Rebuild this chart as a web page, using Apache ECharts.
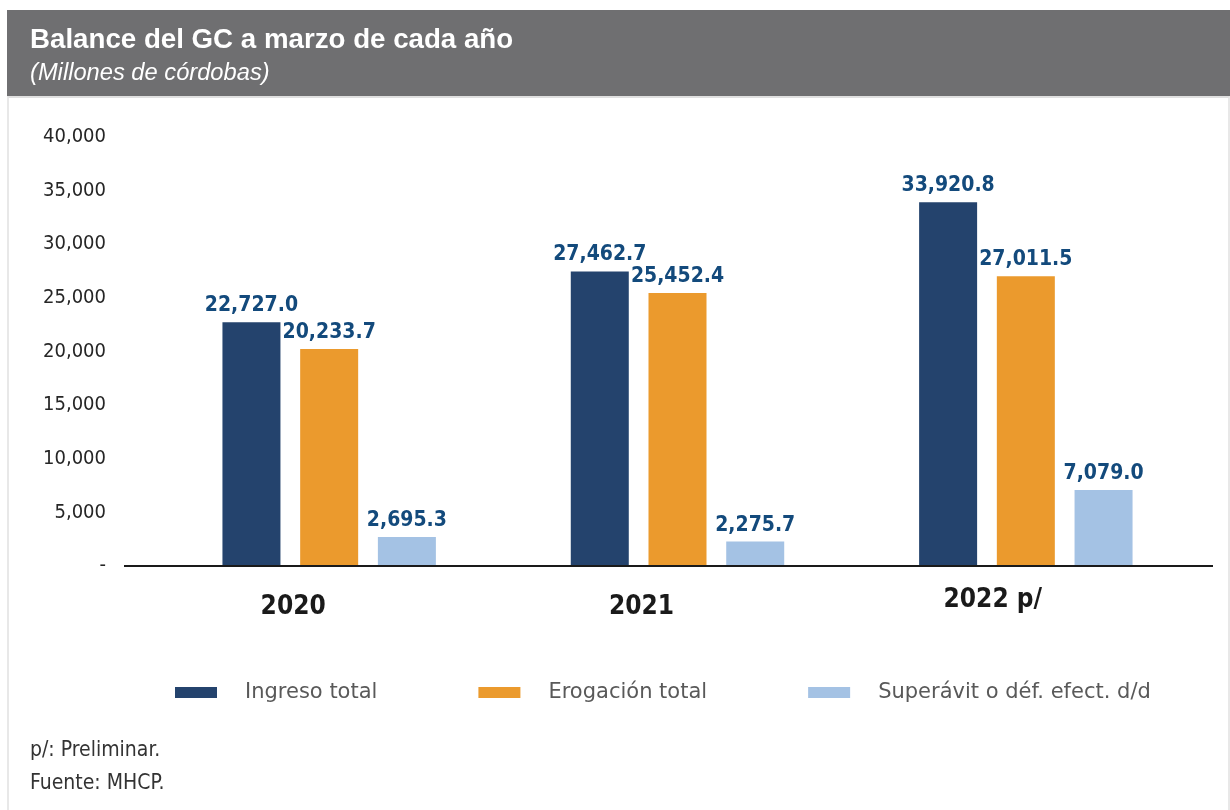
<!DOCTYPE html>
<html>
<head>
<meta charset="utf-8">
<script src="https://cdn.jsdelivr.net/npm/echarts@6/dist/echarts.min.js"></script>
<style>
  html, body { margin: 0; padding: 0; background: #ffffff; }
  #frame { position: absolute; left: 7px; top: 96px; width: 1219px; height: 730px; border-left: 2px solid #e8e8e8; border-right: 2px solid #e8e8e8; border-top: 2px solid #e0e0e0; }
  #main { position: absolute; left: 0; top: 0; width: 1230px; height: 810px; }
</style>
</head>
<body>
<div id="frame"></div>
<div id="main"></div>
<script>
// datos del grafico
var years = ['2020', '2021', '2022 p/'];
var ingreso = [22727.0, 27462.7, 33920.8];
var erogacion = [20233.7, 25452.4, 27011.5];
var superavit = [2695.3, 2275.7, 7079.0];
var seriesNames = ['Ingreso total', 'Erogación total', 'Superávit o déf. efect. d/d'];
var colors = ['#24436d', '#eb9a2d', '#a4c2e4'];

var bodyFont = '"DejaVu Sans", Verdana, sans-serif';
var narrowFont = '"DejaVu Sans Condensed", Tahoma, "DejaVu Sans", sans-serif';

var fmt = function(v) {
    return v.toLocaleString('en-US', {minimumFractionDigits: 1, maximumFractionDigits: 1});
};

var make_series = function(name, data, color) {
    return {
        name: name,
        type: 'bar',
        data: data,
        barWidth: 58,
        barGap: '34%',
        itemStyle: {color: color},
        label: {
            show: true,
            position: 'top',
            distance: 6,
            color: '#134a7c',
            fontFamily: narrowFont,
            fontWeight: 'bold',
            fontSize: 21,
            formatter: function(p) { return fmt(p.value); }
        }
    };
};

// etiquetas del eje x: el ultimo año va un poco mas arriba
var x_data = years.map(function(y) {
    var pre = y.indexOf('p/') >= 0;
    return {value: y, textStyle: {padding: pre ? [0, 66, 0, 0] : [7, 72, 0, 0]}};
});

var myChart = echarts.init(document.getElementById('main'));

var option = {
    animation: false,
    graphic: [
        {type: 'rect', left: 7, top: 10, shape: {width: 1223, height: 86}, style: {fill: '#6f6f71'}, silent: true},
        {type: 'text', left: 30, top: 26, style: {text: 'Balance del GC a marzo de cada año', fill: '#ffffff', font: 'bold 27.7px "Liberation Sans", Arial, sans-serif'}},
        {type: 'text', left: 30, top: 61, style: {text: '(Millones de córdobas)', fill: '#ffffff', font: 'italic 23.7px "Liberation Sans", Arial, sans-serif'}},
        {type: 'text', left: 30, top: 740, style: {text: 'p/: Preliminar.', fill: '#333333', font: '21px ' + narrowFont}},
        {type: 'text', left: 30, top: 773, style: {text: 'Fuente: MHCP.', fill: '#333333', font: '21px ' + narrowFont}}
    ],
    legend: {
        top: 677,
        left: 170,
        itemWidth: 42,
        itemHeight: 11,
        itemGap: 101,
        icon: 'rect',
        textStyle: {fontFamily: bodyFont, fontSize: 21, color: '#595959', padding: [0, 0, 0, 23]},
        data: seriesNames
    },
    grid: {left: 155, right: 30, top: 137, bottom: 244},
    xAxis: {
        type: 'category',
        data: x_data,
        axisLine: {show: false},
        axisTick: {show: false},
        axisLabel: {
            margin: 21,
            color: '#1a1a1a',
            fontFamily: narrowFont,
            fontWeight: 'bold',
            fontSize: 26
        }
    },
    yAxis: {
        type: 'value',
        min: 0,
        max: 40000,
        interval: 5000,
        splitLine: {show: false},
        axisLine: {show: false},
        axisTick: {show: false},
        axisLabel: {
            margin: 49,
            color: '#262626',
            fontFamily: narrowFont,
            fontSize: 20,
            padding: [6, 0, 0, 0],
            formatter: function(v) { return v === 0 ? '-' : v.toLocaleString('en-US'); }
        }
    },
    series: [
        make_series(seriesNames[0], ingreso, colors[0]),
        make_series(seriesNames[1], erogacion, colors[1]),
        make_series(seriesNames[2], superavit, colors[2])
    ]
};

myChart.setOption(option);

// linea base del eje, algo mas larga que la grilla como en el original
var y0 = myChart.convertToPixel({yAxisIndex: 0}, 0);
var g = option.graphic.slice();
g.push({type: 'line', shape: {x1: 124, y1: y0, x2: 1213, y2: y0}, style: {stroke: '#1a1a1a', lineWidth: 2}, z: 10});
myChart.setOption({graphic: g});
</script>
</body>
</html>
